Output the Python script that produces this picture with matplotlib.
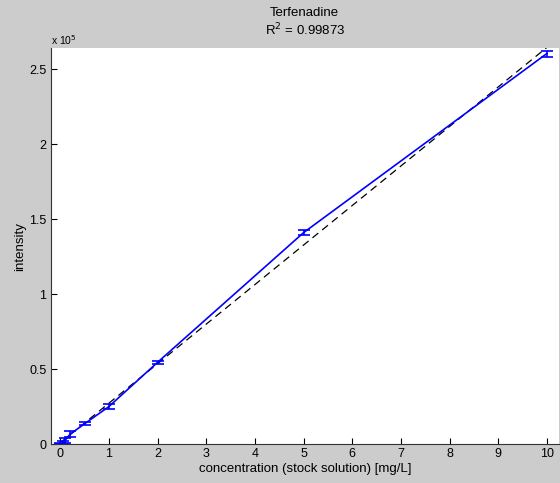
import numpy as np
import matplotlib
matplotlib.use("Agg")
import matplotlib.pyplot as plt

plt.rcParams['font.family'] = ['Liberation Sans', 'DejaVu Sans']

# calibration data: concentration vs. mean intensity with standard deviation
concentration = [0, 0.05, 0.1, 0.2, 0.5, 1, 2, 5, 10]
intensity = [300, 1000, 2500, 6500, 13500, 25000, 54500, 141000, 260500]
intensity_sd = [600, 800, 1500, 2000, 1000, 1500, 1200, 1800, 2000]

compound = "Terfenadine"
r_squared = "0.99873"
xticks = [0, 1, 2, 3, 4, 5, 6, 7, 8, 9, 10]
yticks = [0, 0.5e5, 1e5, 1.5e5, 2e5, 2.5e5]
ytick_labels = ["0", "0.5", "1", "1.5", "2", "2.5"]

x = np.array(concentration, dtype=float)
y = np.array(intensity, dtype=float)
slope, intercept = np.polyfit(x, y, 1)

fig = plt.figure(figsize=(5.6, 4.83), dpi=100, facecolor='#cccccc')
ax = fig.add_axes([0.0902, 0.0807, 0.908, 0.8193])
ax.set_facecolor('white')

xfit = np.array([-0.2, 10.3])
ax.plot(xfit, slope * xfit + intercept, color='black', linestyle=(0, (6, 4)),
        linewidth=0.9)
ax.errorbar(x, y, yerr=intensity_sd, color='#0000ff', linewidth=1.2,
            elinewidth=1.2, capsize=4.5, capthick=1.2)

ax.set_xlim(-0.2, 10.25)
ax.set_ylim(0, 2.64e5)
ax.set_xticks(xticks)
ax.set_xticklabels([str(t) for t in xticks])
ax.set_yticks(yticks)
ax.set_yticklabels(ytick_labels)
ax.tick_params(direction='in', length=4, labelsize=9, colors='black', pad=3,
               width=0.8)
for side in ('top', 'right'):
    ax.spines[side].set_visible(False)
for side in ('left', 'bottom'):
    ax.spines[side].set_color('#333333')
    ax.spines[side].set_linewidth(0.8)

ax.set_xlabel("concentration (stock solution) [mg/L]", fontsize=9.5, labelpad=2)
ax.set_ylabel("intensity", fontsize=9.5, labelpad=2)

# title lines centred over the axes
cx = 0.0902 + 0.908 / 2
fig.text(cx, 0.974, compound, ha='center', va='center', fontsize=9.5)
fig.text(cx, 0.937, r"R$^2$ = " + r_squared, ha='center', va='center',
         fontsize=9.5)
fig.text(0.091, 0.917, r"x 10$^5$", ha='left', va='center', fontsize=7.5)

fig.savefig("out.png", dpi=100, facecolor=fig.get_facecolor())
